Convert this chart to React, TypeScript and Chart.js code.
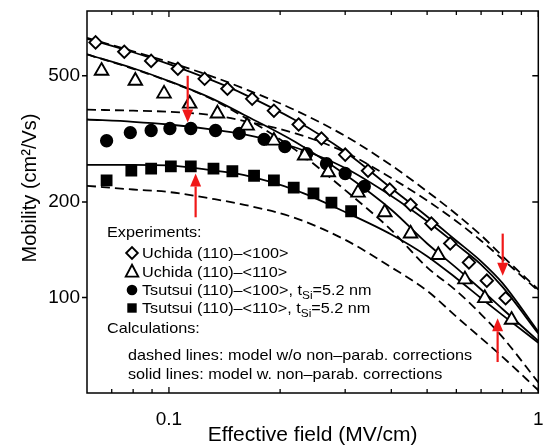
import React, { useEffect, useRef } from "react";
import { Chart, registerables } from "chart.js";

Chart.register(...registerables);

const FONT = "'Liberation Sans', Arial, Helvetica, sans-serif";

// Calculated curves (effective field in MV/cm, mobility in cm2/Vs)
const calcField = [0.06, 0.08, 0.1, 0.13, 0.16, 0.22, 0.3, 0.4, 0.5, 0.6, 0.7, 0.8, 1.0];
const uchida100Dashed = [658, 597, 552, 499, 455, 389, 323, 261, 216, 183, 157, 135, 106];
const uchida100Solid = [654, 593, 544, 485, 437, 362, 288, 221, 180, 151, 130, 111, 78];
const tsutsui100Dashed = [391, 388, 385, 376, 360, 329, 287, 238, 202, 174, 151, 132, 105];
const tsutsui100Solid = [364, 358, 351, 339, 327, 297, 256, 209, 174, 147, 127, 108, 77];
const uchida110Dashed = [584, 526, 480, 423, 370, 292, 218, 163, 124.5, 105, 88.5, 75, 54];
const uchida110Solid = [584, 528, 481, 425, 376, 309, 244, 189, 148, 124, 106, 92, 73];
const tsutsui110Dashed = [225, 219, 215, 205, 196, 178, 152, 124.5, 105, 87, 74.5, 65, 51];
const tsutsui110Solid = [262, 262, 261, 252, 243, 218, 186, 158, 135, 115, 99.5, 88, 72];

// Experiments
const uchida100Field = [0.0633, 0.0757, 0.0895, 0.1057, 0.1249, 0.144, 0.168, 0.1924, 0.2245, 0.2588, 0.3001, 0.3459, 0.396, 0.451, 0.5135, 0.5775, 0.649, 0.7255, 0.8156];
const uchida100Mobility = [637, 595, 557, 526, 489, 455, 423, 388, 351, 317, 282, 251, 219, 196, 171, 148, 129, 113, 99.5];
const uchida110Field = [0.0657, 0.0811, 0.097, 0.1138, 0.1353, 0.1628, 0.1924, 0.233, 0.27, 0.325, 0.384, 0.451, 0.536, 0.633, 0.7165, 0.8465];
const uchida110Mobility = [518, 482, 439, 408, 380, 348, 312, 280, 248, 214, 185.5, 159, 136, 114, 99.5, 85];
const tsutsui100Field = [0.0678, 0.0786, 0.0895, 0.1006, 0.1146, 0.1337, 0.155, 0.181, 0.206, 0.236, 0.267, 0.3, 0.338];
const tsutsui100Mobility = [312, 331, 336, 341, 341, 336, 329, 315, 299, 284, 264, 246, 224];
const tsutsui110Field = [0.0678, 0.0791, 0.0895, 0.1012, 0.1146, 0.132, 0.1485, 0.17, 0.1924, 0.2177, 0.2462, 0.2754, 0.3113];
const tsutsui110Mobility = [234, 251, 255, 259, 259, 255, 250, 242, 234, 222, 213, 199, 187];

// Red arrows (field, from mobility, to mobility)
const arrowField = [0.1124, 0.1181, 0.801, 0.776];
const arrowFrom = [500, 179, 159, 62.6];
const arrowTo = [356, 246, 117, 86];

// Axis ticks
const xTickLabels = [0.1, 1];
const xMinorTicks = [0.07, 0.08, 0.09, 0.2, 0.3, 0.4, 0.5, 0.6, 0.7, 0.8, 0.9];
const yTickLabels = [100, 200, 500];

const pts = (xs: number[], ys: number[]) => xs.map((x, i) => ({ x, y: ys[i] }));

function txt(ctx: CanvasRenderingContext2D, text: string, x: number, y: number, size: number, sx = 1.08) {
  ctx.save();
  ctx.font = `${size}px ${FONT}`;
  ctx.textAlign = "left";
  ctx.textBaseline = "alphabetic";
  ctx.translate(x, y);
  ctx.scale(sx, 1);
  ctx.fillText(text, 0, 0);
  const w = ctx.measureText(text).width * sx;
  ctx.restore();
  return w;
}

function marker(ctx: CanvasRenderingContext2D, kind: string, x: number, y: number) {
  ctx.save();
  ctx.strokeStyle = "#000";
  ctx.fillStyle = "#000";
  ctx.lineWidth = 1.9;
  ctx.beginPath();
  if (kind === "diamond") {
    const r = 5.8;
    ctx.moveTo(x - r, y); ctx.lineTo(x, y - r); ctx.lineTo(x + r, y); ctx.lineTo(x, y + r); ctx.closePath();
    ctx.fillStyle = "#fff"; ctx.fill(); ctx.stroke();
  } else if (kind === "triangle") {
    const r = 7.2;
    ctx.moveTo(x, y - r); ctx.lineTo(x + r * 0.866, y + r * 0.5 + 1); ctx.lineTo(x - r * 0.866, y + r * 0.5 + 1); ctx.closePath();
    ctx.fillStyle = "#fff"; ctx.fill(); ctx.stroke();
  } else if (kind === "circle") {
    ctx.arc(x, y, 5.3, 0, Math.PI * 2); ctx.fill();
  } else {
    ctx.rect(x - 4.7, y - 4.7, 9.4, 9.4); ctx.fill();
  }
  ctx.restore();
}

const decorPlugin = {
  id: "decor",
  afterDatasetsDraw(chart: any) {
    const ctx: CanvasRenderingContext2D = chart.ctx;
    const xs = chart.scales.x, ys = chart.scales.y;
    ctx.save();
    ctx.strokeStyle = "#f01818";
    ctx.fillStyle = "#f01818";
    ctx.lineWidth = 2.2;
    arrowField.forEach((f, i) => {
      const x = xs.getPixelForValue(f);
      const y0 = ys.getPixelForValue(arrowFrom[i]);
      const y1 = ys.getPixelForValue(arrowTo[i]);
      const dir = y1 > y0 ? 1 : -1;
      const head = 13;
      ctx.beginPath();
      ctx.moveTo(x, y0);
      ctx.lineTo(x, y1 - dir * head);
      ctx.stroke();
      ctx.beginPath();
      ctx.moveTo(x, y1);
      ctx.lineTo(x - 5.5, y1 - dir * head);
      ctx.lineTo(x + 5.5, y1 - dir * head);
      ctx.closePath();
      ctx.fill();
    });
    ctx.restore();
  },
  afterDraw(chart: any) {
    const ctx: CanvasRenderingContext2D = chart.ctx;
    const ca = chart.chartArea;
    const xs = chart.scales.x, ys = chart.scales.y;
    ctx.save();
    ctx.strokeStyle = "#000";
    ctx.lineWidth = 1.5;
    ctx.strokeRect(ca.left, ca.top, ca.right - ca.left, ca.bottom - ca.top);
    ctx.lineWidth = 1.3;
    ctx.beginPath();
    const xt = (v: number, len: number) => {
      const p = xs.getPixelForValue(v);
      ctx.moveTo(p, ca.bottom); ctx.lineTo(p, ca.bottom - len);
      ctx.moveTo(p, ca.top); ctx.lineTo(p, ca.top + len);
    };
    xMinorTicks.forEach((v) => xt(v, 4));
    xTickLabels.forEach((v) => xt(v, 6));
    yTickLabels.forEach((v) => {
      const p = ys.getPixelForValue(v);
      ctx.moveTo(ca.left - 5, p); ctx.lineTo(ca.left, p);
      ctx.moveTo(ca.right, p); ctx.lineTo(ca.right - 6, p);
    });
    ctx.stroke();
    ctx.restore();

    // y axis title
    ctx.save();
    ctx.fillStyle = "#000";
    ctx.font = `20px ${FONT}`;
    ctx.translate(30, (ca.top + ca.bottom) / 2 - 14);
    ctx.rotate(-Math.PI / 2);
    ctx.textAlign = "center";
    ctx.textBaseline = "middle";
    ctx.fillText("Mobility (cm²/Vs)", 0, 0);
    ctx.restore();

    // legend
    ctx.save();
    ctx.fillStyle = "#000";
    const L = ca.left + 20;
    const MX = ca.left + 45;
    const TX = ca.left + 55;
    const CX = ca.left + 41;
    const b = ca.bottom;
    const fs = 15;
    txt(ctx, "Experiments:", L, b - 156, fs);
    marker(ctx, "diamond", MX, b - 140);
    txt(ctx, "Uchida (110)\u2013<100>", TX, b - 135, fs);
    marker(ctx, "triangle", MX, b - 121);
    txt(ctx, "Uchida (110)\u2013<110>", TX, b - 116, fs);
    marker(ctx, "circle", MX, b - 103);
    let w = txt(ctx, "Tsutsui (110)\u2013<100>, t", TX, b - 98, fs);
    let w2 = txt(ctx, "Si", TX + w, b - 94, 11);
    txt(ctx, "=5.2 nm", TX + w + w2, b - 98, fs);
    marker(ctx, "square", MX, b - 85);
    w = txt(ctx, "Tsutsui (110)\u2013<110>, t", TX, b - 80, fs);
    w2 = txt(ctx, "Si", TX + w, b - 76, 11);
    txt(ctx, "=5.2 nm", TX + w + w2, b - 80, fs);
    txt(ctx, "Calculations:", L, b - 60, fs);
    txt(ctx, "dashed lines: model w/o non\u2013parab. corrections", CX, b - 33, fs);
    txt(ctx, "solid lines: model w. non\u2013parab. corrections", CX, b - 14, fs);
    ctx.restore();
  },
};

export default function App() {
  const ref = useRef<HTMLCanvasElement>(null);
  useEffect(() => {
    if (!ref.current) return;
    const lineDs = (label: string, ys: number[], dashed: boolean) => ({
      label,
      data: pts(calcField, ys),
      showLine: true,
      borderColor: "#000",
      borderWidth: 1.8,
      borderDash: dashed ? [9, 5] : [],
      pointRadius: 0,
      fill: false,
      cubicInterpolationMode: "monotone" as const,
    });
    const markDs = (label: string, xs: number[], ys: number[], style: string, filled: boolean, r: number) => ({
      label,
      data: pts(xs, ys),
      showLine: false,
      pointStyle: style,
      pointRadius: r,
      pointBorderColor: "#000",
      pointBackgroundColor: filled ? "#000" : "#fff",
      pointBorderWidth: 1.9,
      borderColor: "#000",
    });
    const chart = new Chart(ref.current, {
      type: "line",
      data: {
        datasets: [
          markDs("Uchida (110)–<100>", uchida100Field, uchida100Mobility, "rectRot", false, 6.2),
          markDs("Uchida (110)–<110>", uchida110Field, uchida110Mobility, "triangle", false, 7.8),
          markDs("Tsutsui (110)–<100>", tsutsui100Field, tsutsui100Mobility, "circle", true, 5.7),
          markDs("Tsutsui (110)–<110>", tsutsui110Field, tsutsui110Mobility, "rect", true, 7),
          lineDs("Uchida <100> w/o", uchida100Dashed, true),
          lineDs("Uchida <100> w.", uchida100Solid, false),
          lineDs("Tsutsui <100> w/o", tsutsui100Dashed, true),
          lineDs("Tsutsui <100> w.", tsutsui100Solid, false),
          lineDs("Uchida <110> w/o", uchida110Dashed, true),
          lineDs("Uchida <110> w.", uchida110Solid, false),
          lineDs("Tsutsui <110> w/o", tsutsui110Dashed, true),
          lineDs("Tsutsui <110> w.", tsutsui110Solid, false),
        ] as any,
      },
      options: {
        animation: false,
        responsive: false,
        devicePixelRatio: 1,
        layout: { padding: { top: 11, right: 3, left: 0, bottom: 0 } },
        plugins: { legend: { display: false }, tooltip: { enabled: false } },
        scales: {
          x: {
            type: "logarithmic",
            min: 0.06,
            max: 1,
            grid: { display: false, drawTicks: false },
            border: { display: false },
            afterBuildTicks: (s: any) => { s.ticks = xTickLabels.map((v) => ({ value: v })); },
            afterFit: (s: any) => { s.height = 54; s.paddingLeft = 0; s.paddingRight = 0; },
            ticks: {
              autoSkip: false,
              maxRotation: 0,
              padding: 15,
              color: "#000",
              font: { family: FONT, size: 19 },
              callback: (v: any) => String(v),
            },
            title: {
              display: true,
              text: "Effective field (MV/cm)",
              color: "#000",
              font: { family: FONT, size: 21 },
              padding: { top: 0, bottom: -1 },
            },
          },
          y: {
            type: "logarithmic",
            min: 50,
            max: 800,
            grid: { display: false, drawTicks: false },
            border: { display: false },
            afterBuildTicks: (s: any) => { s.ticks = yTickLabels.map((v) => ({ value: v })); },
            afterFit: (s: any) => { s.width = 87; s.paddingTop = 0; s.paddingBottom = 0; },
            ticks: {
              autoSkip: false,
              padding: 7,
              color: "#000",
              font: { family: FONT, size: 19 },
              callback: (v: any) => String(v),
            },
          },
        },
      },
      plugins: [decorPlugin],
    } as any);
    return () => chart.destroy();
  }, []);
  return (
    <div style={{ position: "absolute", left: 0, top: 0, width: 548, height: 447, background: "#fff" }}>
      <canvas ref={ref} width={548} height={447} />
    </div>
  );
}
